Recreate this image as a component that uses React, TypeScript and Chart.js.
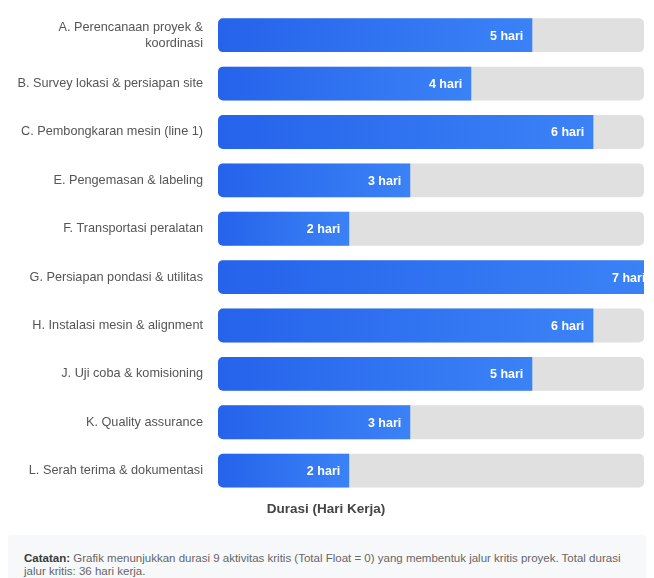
import React, { useEffect, useRef } from "react";
import { Chart, registerables } from "chart.js";

Chart.register(...registerables);

const categories: (string | string[])[] = [
  ["A. Perencanaan proyek &", "koordinasi"],
  "B. Survey lokasi & persiapan site",
  "C. Pembongkaran mesin (line 1)",
  "E. Pengemasan & labeling",
  "F. Transportasi peralatan",
  "G. Persiapan pondasi & utilitas",
  "H. Instalasi mesin & alignment",
  "J. Uji coba & komisioning",
  "K. Quality assurance",
  "L. Serah terima & dokumentasi",
];

const durations: number[] = [5, 4, 6, 3, 2, 7, 6, 5, 3, 2];
const unitLabel = "hari";
const axisTitle = "Durasi (Hari Kerja)";

const X_MIN = -0.15;
const X_MAX = 6.83;

const FONT = "'Liberation Sans', Arial, Helvetica, sans-serif";

const valueLabels = {
  id: "valueLabels",
  afterDatasetsDraw(chart: any) {
    const meta = chart.getDatasetMeta(1);
    const { ctx, chartArea } = chart;
    ctx.save();
    ctx.beginPath();
    ctx.rect(chartArea.left, chartArea.top, chartArea.right - chartArea.left, chartArea.bottom - chartArea.top);
    ctx.clip();
    ctx.font = `bold 12.5px ${FONT}`;
    ctx.fillStyle = "#ffffff";
    ctx.textAlign = "right";
    ctx.textBaseline = "middle";
    meta.data.forEach((el: any, i: number) => {
      ctx.fillText(`${durations[i]} ${unitLabel}`, el.x - 9, el.y + 1);
    });
    ctx.restore();
  },
};

export default function App() {
  const ref = useRef<HTMLCanvasElement>(null);

  useEffect(() => {
    if (!ref.current) return;
    const chart = new Chart(ref.current, {
      type: "bar",
      data: {
        labels: categories,
        datasets: [
          {
            label: "bg",
            data: durations.map(() => X_MAX),
            base: X_MIN,
            backgroundColor: "#e0e0e0",
            borderRadius: 5,
            borderSkipped: false,
            grouped: false,
            order: 2,
            categoryPercentage: 0.7,
            barPercentage: 1,
          } as any,
          {
            label: "Durasi",
            data: durations,
            base: X_MIN,
            backgroundColor: (c: any) => {
              const ch = c.chart;
              if (!ch.chartArea || c.raw == null) return "#2563eb";
              const xs = ch.scales.x;
              const x0 = xs.getPixelForValue(X_MIN);
              const x1 = xs.getPixelForValue(c.raw);
              const g = ch.ctx.createLinearGradient(x0, 0, x1, 0);
              g.addColorStop(0, "#2563eb");
              g.addColorStop(1, "#3b82f6");
              return g;
            },
            borderRadius: { topLeft: 5, bottomLeft: 5, topRight: 0, bottomRight: 0 },
            borderSkipped: false,
            grouped: false,
            order: 1,
            categoryPercentage: 0.7,
            barPercentage: 1,
          } as any,
        ],
      },
      options: {
        indexAxis: "y",
        animation: false,
        responsive: true,
        maintainAspectRatio: false,
        layout: { padding: { top: 3, right: 2, left: 0, bottom: 0 } },
        scales: {
          x: {
            display: false,
            min: X_MIN,
            max: X_MAX,
          },
          y: {
            grid: { display: false, drawTicks: false },
            border: { display: false },
            ticks: {
              color: "#555555",
              font: { family: FONT, size: 12.7, lineHeight: 1.25 },
              padding: 15,
            },
            afterFit(scale: any) {
              scale.width = 210;
              scale.paddingTop = 0;
              scale.paddingBottom = 0;
            },
          },
        },
        plugins: {
          legend: { display: false },
          tooltip: { enabled: false },
          title: {
            display: true,
            position: "bottom",
            text: axisTitle,
            color: "#444444",
            font: { family: FONT, size: 13.5, weight: "bold" },
            padding: { top: 6, bottom: 6 },
          },
        },
      } as any,
      plugins: [valueLabels],
    });
    return () => chart.destroy();
  }, []);

  return (
    <div style={{ width: 638, fontFamily: FONT }}>
      <div style={{ position: "relative", width: 638, height: 515 }}>
        <canvas ref={ref} />
      </div>
      <div
        style={{
          marginTop: 12,
          background: "#f7f8f9",
          borderRadius: 4,
          padding: "17px 15px 15px 16px",
          fontSize: 11.5,
          lineHeight: "13px",
          color: "#666666",
        }}
      >
        <b style={{ color: "#3a3a3a" }}>Catatan:</b> Grafik menunjukkan durasi 9 aktivitas kritis (Total Float = 0) yang
        membentuk jalur kritis proyek. Total durasi jalur kritis: 36 hari kerja.
      </div>
    </div>
  );
}
